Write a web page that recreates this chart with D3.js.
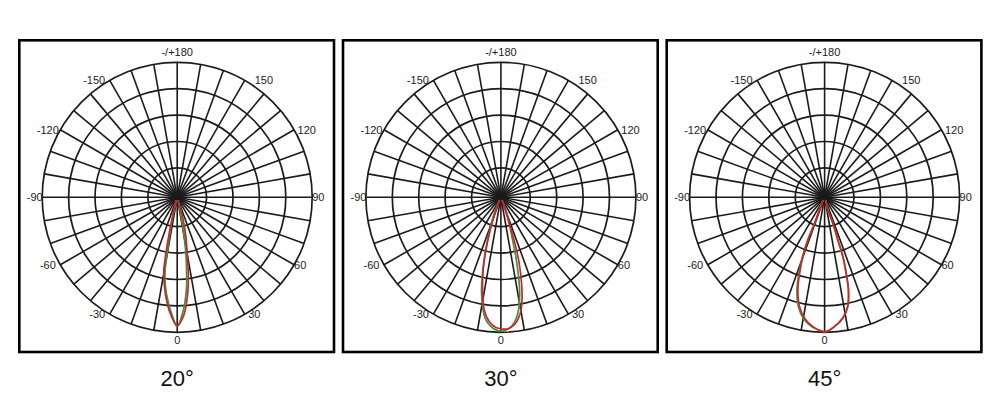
<!DOCTYPE html>
<html><head><meta charset="utf-8">
<script src="https://cdn.jsdelivr.net/npm/d3@7"></script>
<style>html,body{margin:0;padding:0;background:#fff;}svg{display:block;}</style>
</head><body>
<svg id="chart" width="1000" height="420"></svg>
<script>
// ---- data ----
const panelTitles = ["20°", "30°", "45°"];
const ringValues = [20, 40, 60, 80, 100];
const spokeStep = 10;
const angleTicks = [0, 30, 60, 90, 120, 150, 180, -150, -120, -90, -60, -30];
const angleTickLabels = ["0", "30", "60", "90", "120", "150", "-/+180", "-150", "-120", "-90", "-60", "-30"];

// 20° beam
const red20Angles   = [-20, -14, -12.5, -11.4, -10.4, -8.1, -5.4, -2.7, 0, 2.9, 5.0, 7.0, 8.6, 10.1, 12.4, 14.8, 20];
const red20Values   = [0, 10.2, 25.8, 41, 53.7, 66, 78.4, 88.3, 95.2, 88.3, 78.3, 65.9, 53.4, 40.8, 28.3, 15.5, 0];
const green20Angles = [-18, -14, -12.3, -10.1, -9.4, -7.5, -4.7, -2.2, 0, 2.1, 4.1, 6, 7.3, 8.8, 10.4, 12, 16];
const green20Values = [0, 5, 17.9, 40.8, 53.6, 66, 78.3, 88.2, 95.7, 88.2, 78.2, 65.8, 53.3, 40.7, 22.9, 7.6, 0];
// 30° beam
const red30Angles   = [-26, -21.5, -18.1, -15.9, -13.7, -11.2, -8.4, -5.4, -2.2, 0.7, 2.9, 5.9, 9.5, 11.6, 13.5, 15.5, 16.9, 17.7, 19.7, 24];
const red30Values   = [0, 8.0, 23.8, 39.2, 54.4, 69.3, 84.0, 92.3, 96.5, 97.5, 97.6, 95.0, 86.8, 77.1, 64.8, 49.6, 34.2, 18.4, 5.2, 0];
const green30Angles = [-26, -22.6, -17.3, -14.7, -11.8, -9.5, -7.4, -4.4, -1.4, 0.7, 3.6, 6.4, 8.9, 11.4, 13.6, 15.3, 19.1, 24];
const green30Values = [0, 10.8, 31.6, 49.4, 69.5, 81.7, 90.2, 96, 98.8, 99, 97.2, 92.5, 84.1, 69.3, 49.2, 31.2, 13.3, 0];
// 45° beam
const red45Angles   = [-28, -23.3, -21, -21.3, -20.1, -18.2, -16.1, -12.9, -9.4, -5.2, -0.7, 0.7, 4.4, 8.6, 12, 14.5, 15.9, 17.2, 17.3, 17.7, 14.6, 20];
const red45Values   = [0, 5.4, 18.8, 32.4, 45.6, 58.3, 70.8, 82.7, 90.6, 96.1, 99.5, 99.5, 96, 90.4, 82.4, 70.2, 57.6, 44.8, 31.6, 18.4, 7.7, 0];
const green45Angles = [-28, -23.5, -21.2, -21.5, -20.4, -18.6, -16.5, -13.3, -9.8, -5.4, -0.7, 0.7, 4.4, 8.5, 11.9, 14.4, 15.8, 17.1, 17.2, 17.6, 14.6, 20];
const green45Values = [0, 5.6, 19.0, 32.6, 46.0, 58.8, 71.5, 83.4, 91.2, 96.5, 99.3, 99.3, 95.8, 90.2, 82.2, 70.0, 57.4, 44.6, 31.4, 18.2, 7.6, 0];

const seriesByPanel = [
  [{a: green20Angles, v: green20Values, c: "#2e9a44"}, {a: red20Angles, v: red20Values, c: "#d2232a"}],
  [{a: green30Angles, v: green30Values, c: "#2e9a44"}, {a: red30Angles, v: red30Values, c: "#d2232a"}],
  [{a: green45Angles, v: green45Values, c: "#2e9a44"}, {a: red45Angles, v: red45Values, c: "#d2232a"}]
];

// ---- layout ----
const svg = d3.select("#chart");
const panelStep = 323.7, panelX0 = 18, panelY0 = 39, panelW = 317.3, panelH = 314.3, border = 2.6;
const cyOff = 158.3, cxOff = 159.2;
const R = 135;
const r = d3.scaleLinear().domain([0, 100]).range([3, R]);
const toRad = deg => (180 - deg) * Math.PI / 180; // 0 at bottom, +90 at right
const gridColor = "#1b1b1b";

panelTitles.forEach((title, i) => {
  const x0 = panelX0 + i * panelStep;
  const g = svg.append("g");
  g.append("rect")
    .attr("x", x0 + border / 2).attr("y", panelY0 + border / 2)
    .attr("width", panelW - border).attr("height", panelH - border)
    .attr("fill", "#fff").attr("stroke", "#000").attr("stroke-width", border);

  const cx = x0 + cxOff, cy = panelY0 + cyOff;
  const p = g.append("g").attr("transform", `translate(${cx},${cy})`);

  // rings
  p.selectAll("circle.ring").data(ringValues).join("circle")
    .attr("class", "ring").attr("r", d => r(d))
    .attr("fill", "none").attr("stroke", gridColor).attr("stroke-width", 1.7);

  // spokes
  p.selectAll("line.spoke").data(d3.range(0, 360, spokeStep)).join("line")
    .attr("class", "spoke")
    .attr("x1", 0).attr("y1", 0)
    .attr("x2", d => r(100) * Math.sin(d * Math.PI / 180))
    .attr("y2", d => r(100) * Math.cos(d * Math.PI / 180))
    .attr("stroke", gridColor).attr("stroke-width", 1.6);

  // angle labels
  p.selectAll("text.tick").data(angleTicks).join("text")
    .attr("class", "tick")
    .attr("x", d => {
      const x = r(100) * Math.sin(d * Math.PI / 180);
      if (d === 0 || d === 180) return x;
      const nudge = (d === 150) ? 10 : (d === 120 || d === 30) ? 3.5 : 0;
      return d > 0 ? x + nudge : x - (d === -90 ? -0.5 : (d === -120 ? 1.5 : 4.5));
    })
    .attr("y", d => {
      const y = r(100) * Math.cos(d * Math.PI / 180);
      if (d === 0) return y + 12;
      if (d === 180) return y - 6;
      return y + 4;
    })
    .attr("text-anchor", d => (d === 0 || d === 180) ? "middle" : (d > 0 ? "start" : "end"))
    .attr("font-family", "Arial, 'Liberation Sans', sans-serif")
    .attr("font-size", 11).attr("fill", "#1b1b1b")
    .text((d, j) => angleTickLabels[j]);

  // curves
  const line = d3.lineRadial()
    .angle(d => toRad(d[0])).radius(d => r(d[1]))
    .curve(d3.curveCatmullRom.alpha(0.5));
  seriesByPanel[i].forEach(s => {
    p.append("path")
      .attr("d", line(s.a.map((a, k) => [a, s.v[k]])))
      .attr("fill", "none").attr("stroke", s.c).attr("stroke-width", 1.7);
  });

  // title
  svg.append("text")
    .attr("x", cx).attr("y", 386)
    .attr("text-anchor", "middle")
    .attr("font-family", "Arial, 'Liberation Sans', sans-serif")
    .attr("font-size", 22).attr("fill", "#111")
    .text(title);
});
</script>
</body></html>
